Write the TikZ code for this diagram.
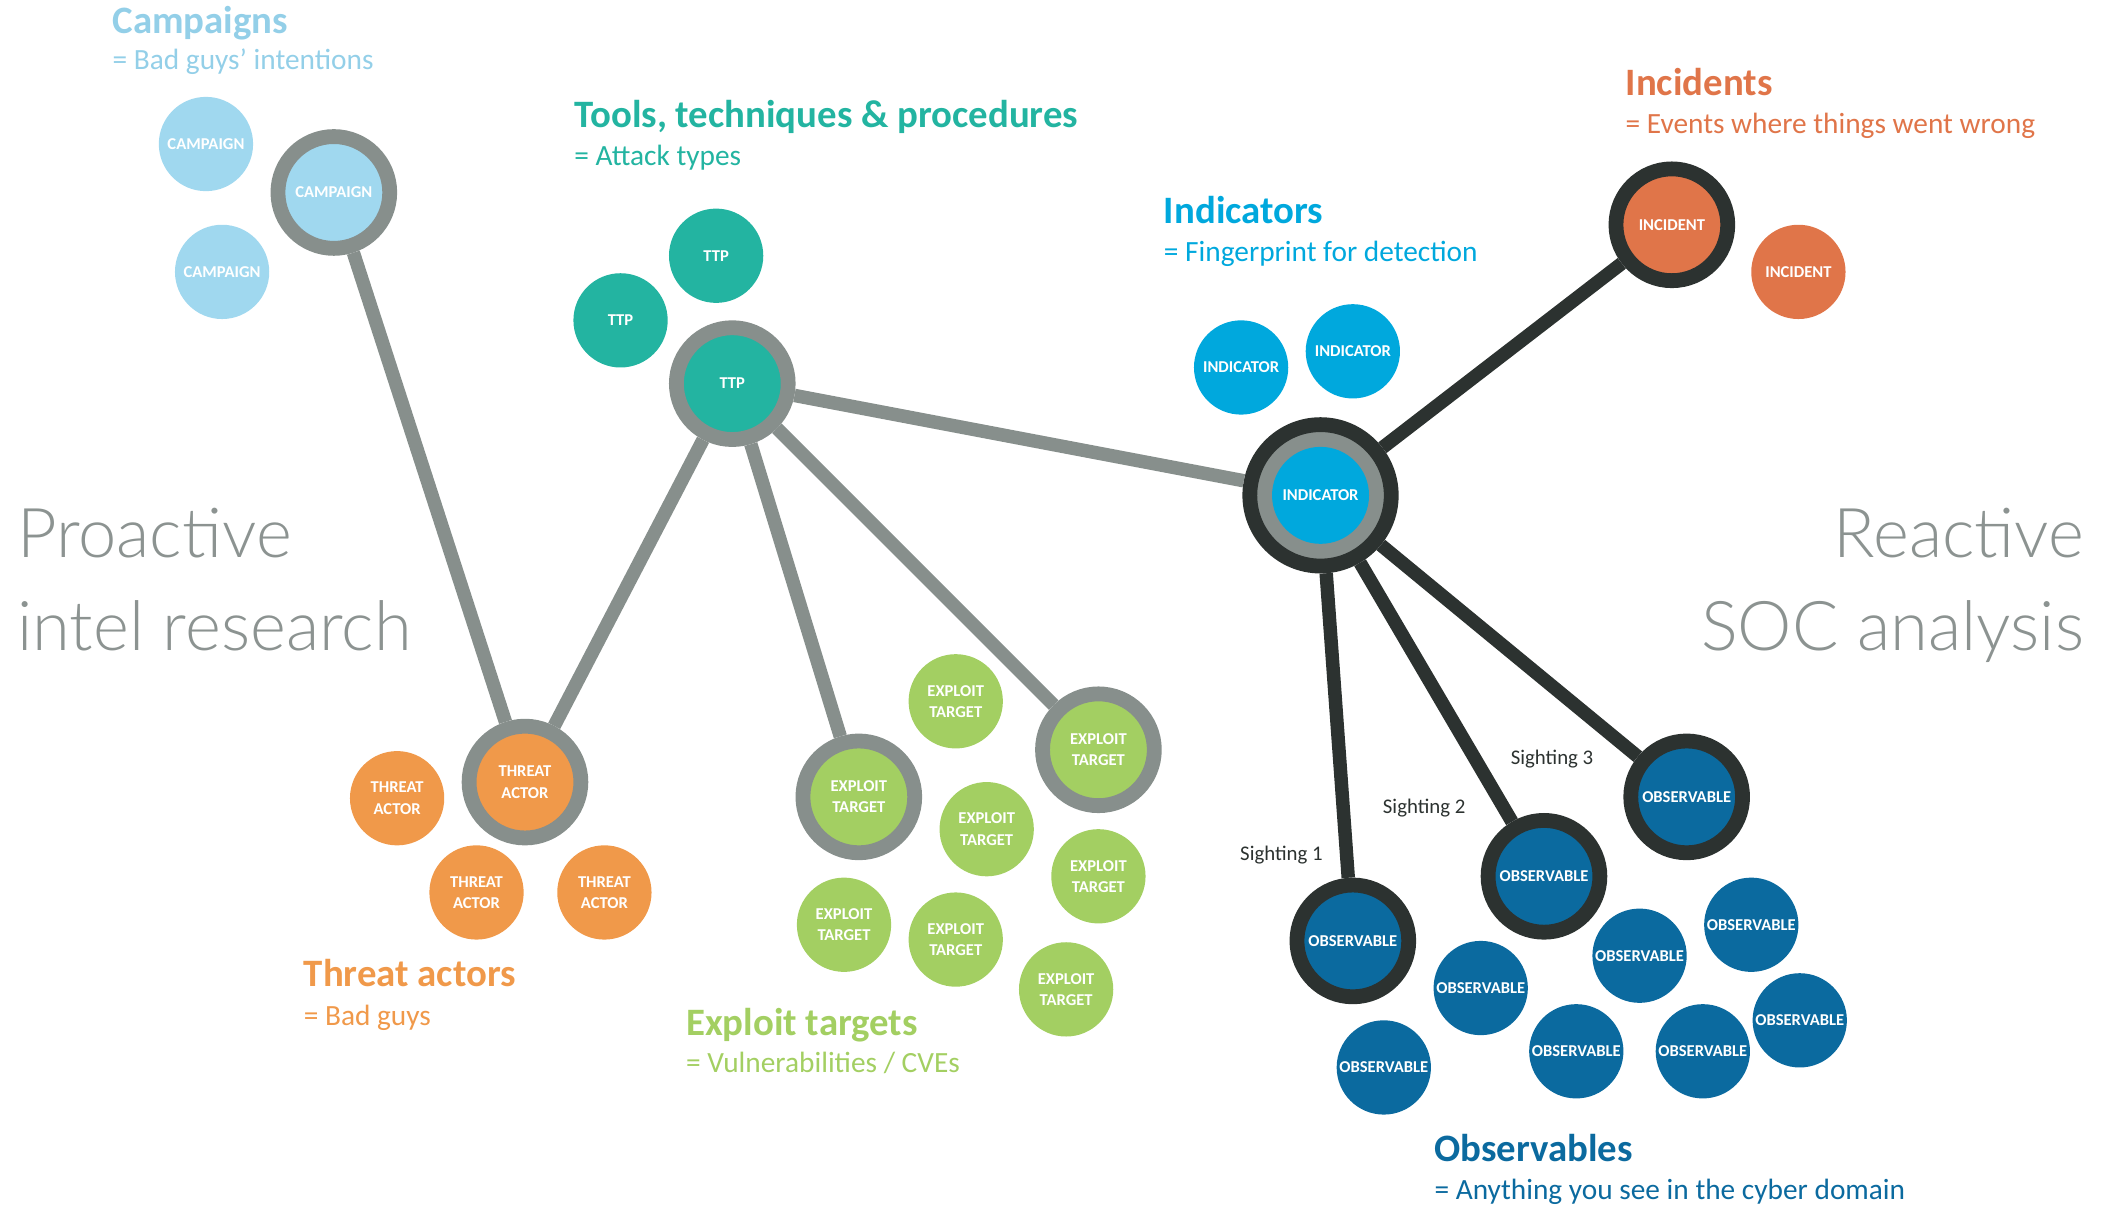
\documentclass[tikz,border=0pt]{standalone}
\usepackage{fontspec}
\setmainfont{Carlito}
\IfFontExistsTF{Lato Light}{\newfontfamily\thinfont{Lato Light}}{\newfontfamily\thinfont{Carlito}}
\usepackage{tikz}

\definecolor{camp}{HTML}{A0D8EF}
\definecolor{camptext}{HTML}{93CFE8}
\definecolor{ttp}{HTML}{23B4A1}
\definecolor{ind}{HTML}{00A8DD}
\definecolor{inc}{HTML}{E07549}
\definecolor{actor}{HTML}{F0994A}
\definecolor{expl}{HTML}{A3CF62}
\definecolor{obs}{HTML}{0B6A9F}
\definecolor{ringgray}{HTML}{878F8C}
\definecolor{ringdark}{HTML}{2C3230}
\definecolor{biggray}{HTML}{8C9391}

\begin{document}
\begin{tikzpicture}
			[x=0.01cm,y=-0.01cm,
			blob/.style={circle,minimum size=0.7cm,inner sep=0pt,text=white,align=center,font=\bfseries\fontsize{3.5}{4.5}\selectfont},
			hub/.style={blob,draw=ringgray,line width=0.11cm,minimum size=0.83cm},
			darkhub/.style={blob,draw=ringdark,line width=0.11cm,minimum size=0.83cm},
			bighub/.style={blob,fill=ringgray,draw=ringdark,line width=0.11cm,minimum size=1.05cm,
				path picture={\fill[ind] (path picture bounding box.center) circle (0.36cm);}},
			edge/.style={line width=0.1cm,ringgray},
			darkedge/.style={line width=0.1cm,ringdark},
			head/.style={anchor=base west,inner sep=0pt,font=\bfseries\fontsize{8.2}{10}\selectfont},
			sub/.style={anchor=base west,inner sep=0pt,font=\fontsize{6.2}{7.5}\selectfont},
			big/.style={inner sep=0pt,text=biggray,font=\thinfont\fontsize{14.5}{18}\selectfont},
			sight/.style={inner sep=0pt,text=ringdark,font=\fontsize{4.4}{5}\selectfont}]
			\useasboundingbox (0,0) rectangle (1566,895);
			
			% side titles
			\node[big,anchor=base west] (pro1) at (12,414) {Proactive};
			\node[big,anchor=base west] (pro2) at (12,483) {intel research};
			\node[big,anchor=base east] (rea1) at (1549,414) {Reactive};
			\node[big,anchor=base east] (rea2) at (1549,483) {SOC analysis};
			
			% headings
			\node[head,text=camptext] (hcamp) at (83,25) {Campaigns};
			\node[sub,text=camptext] (scamp) at (83,52) {= Bad guys’ intentions};
			\node[head,text=ttp] (http) at (426,95) {Tools, techniques \& procedures};
			\node[sub,text=ttp] (sttp) at (426,123) {= Attack types};
			\node[head,text=ind] (hind) at (864,166) {Indicators};
			\node[sub,text=ind] (sind) at (864,194) {= Fingerprint for detection};
			\node[head,text=inc] (hinc) at (1207,71) {Incidents};
			\node[sub,text=inc] (sinc) at (1207,99) {= Events where things went wrong};
			\node[head,text=actor] (hact) at (225,733) {Threat actors};
			\node[sub,text=actor] (sact) at (225,762) {= Bad guys};
			\node[head,text=expl] (hexp) at (509,769) {Exploit targets};
			\node[sub,text=expl] (sexp) at (509,797) {= Vulnerabilities / CVEs};
			\node[head,text=obs] (hobs) at (1065,863) {Observables};
			\node[sub,text=obs] (sobs) at (1065,891) {= Anything you see in the cyber domain};
			
			% campaigns
			\node[blob,fill=camp] (c1) at (153,107) {CAMPAIGN};
			\node[blob,fill=camp] (c2) at (165,202) {CAMPAIGN};
			\node[hub,fill=camp] (c0) at (248,143) {CAMPAIGN};
			
			% ttps
			\node[blob,fill=ttp] (t1) at (532,190) {TTP};
			\node[blob,fill=ttp] (t2) at (461,238) {TTP};
			\node[hub,fill=ttp] (t0) at (544,285) {TTP};
			
			% indicators
			\node[blob,fill=ind] (i1) at (922,273) {INDICATOR};
			\node[blob,fill=ind] (i2) at (1005,261) {INDICATOR};
			\node[bighub] (i0) at (981,368) {INDICATOR};
			
			% incidents
			\node[darkhub,fill=inc] (n0) at (1242,167) {INCIDENT};
			\node[blob,fill=inc] (n1) at (1336,202) {INCIDENT};
			
			% threat actors
			\node[hub,fill=actor] (a0) at (390,581) {THREAT\\ACTOR};
			\node[blob,fill=actor] (a1) at (295,593) {THREAT\\ACTOR};
			\node[blob,fill=actor] (a2) at (354,663) {THREAT\\ACTOR};
			\node[blob,fill=actor] (a3) at (449,663) {THREAT\\ACTOR};
			
			% exploit targets
			\node[hub,fill=expl] (e0) at (638,592) {EXPLOIT\\TARGET};
			\node[hub,fill=expl] (e1) at (816,557) {EXPLOIT\\TARGET};
			\node[blob,fill=expl] (e2) at (710,521) {EXPLOIT\\TARGET};
			\node[blob,fill=expl] (e3) at (733,616) {EXPLOIT\\TARGET};
			\node[blob,fill=expl] (e4) at (816,651) {EXPLOIT\\TARGET};
			\node[blob,fill=expl] (e5) at (627,687) {EXPLOIT\\TARGET};
			\node[blob,fill=expl] (e6) at (710,698) {EXPLOIT\\TARGET};
			\node[blob,fill=expl] (e7) at (792,735) {EXPLOIT\\TARGET};
			
			% observables
			\node[darkhub,fill=obs] (o1) at (1005,699) {OBSERVABLE};
			\node[darkhub,fill=obs] (o2) at (1147,651) {OBSERVABLE};
			\node[darkhub,fill=obs] (o3) at (1253,592) {OBSERVABLE};
			\node[blob,fill=obs] (o4) at (1100,734) {OBSERVABLE};
			\node[blob,fill=obs] (o5) at (1218,710) {OBSERVABLE};
			\node[blob,fill=obs] (o6) at (1301,687) {OBSERVABLE};
			\node[blob,fill=obs] (o7) at (1337,758) {OBSERVABLE};
			\node[blob,fill=obs] (o8) at (1265,781) {OBSERVABLE};
			\node[blob,fill=obs] (o9) at (1171,781) {OBSERVABLE};
			\node[blob,fill=obs] (o10) at (1028,793) {OBSERVABLE};
			
			\node[sight] (s1) at (952,635) {Sighting 1};
			\node[sight] (s2) at (1058,600) {Sighting 2};
			\node[sight] (s3) at (1153,564) {Sighting 3};
			
			\draw[edge] (c0) -- (a0);
			\draw[edge] (t0) -- (a0);
			\draw[edge] (t0) -- (e0);
			\draw[edge] (t0) -- (e1);
			\draw[edge] (t0) -- (i0);
			
			\draw[darkedge] (i0) -- (n0);
			\draw[darkedge] (i0) -- (o1);
			\draw[darkedge] (i0) -- (o2);
			\draw[darkedge] (i0) -- (o3);
			
			\end{tikzpicture}
\end{document}
